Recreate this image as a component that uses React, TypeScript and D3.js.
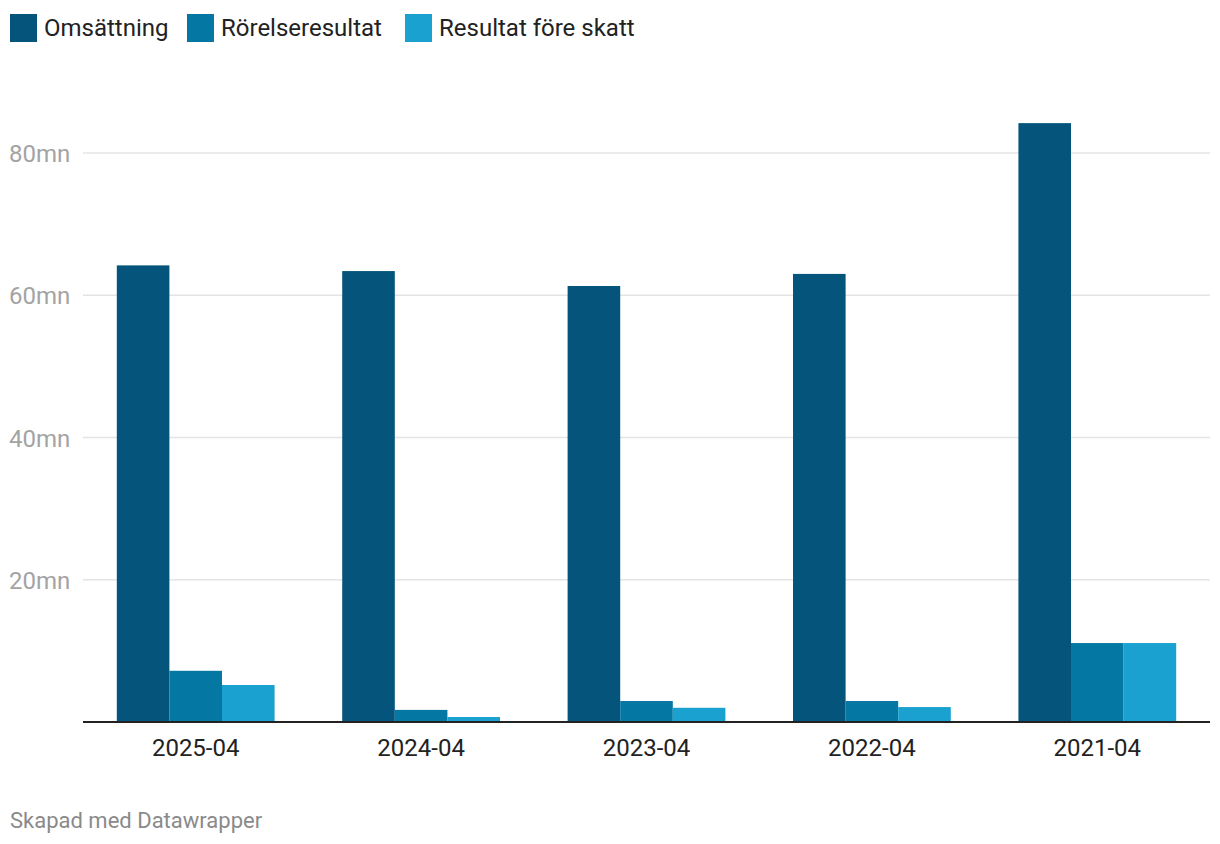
import { useEffect, useRef } from 'react';
import * as d3 from 'd3';

const categories = ['2025-04', '2024-04', '2023-04', '2022-04', '2021-04'];
const seriesNames = ['Omsättning', 'Rörelseresultat', 'Resultat före skatt'];
const omsattning = [64.2, 63.4, 61.3, 63.0, 84.2];
const rorelseresultat = [7.2, 1.7, 2.95, 2.95, 11.1];
const resultatForeSkatt = [5.2, 0.7, 2.0, 2.1, 11.1];
const yTicks = [20, 40, 60, 80];
const colors = ['#04547b', '#0477a3', '#1aa1cf'];

export default function App() {
  const svgRef = useRef<SVGSVGElement>(null);
  const width = 1220;
  const height = 844;

  useEffect(() => {
    document.body.style.margin = '0';
    if (!svgRef.current) return;

    const svg = d3.select(svgRef.current);
    svg.selectAll('*').remove();

    const font = 'Roboto, sans-serif';
    const margin = { top: 100, right: 10, bottom: 122, left: 83 };
    const innerWidth = width - margin.left - margin.right;
    const innerHeight = height - margin.top - margin.bottom;

    const values = [omsattning, rorelseresultat, resultatForeSkatt];
    const data = categories.map((c, i) => ({
      category: c,
      vals: seriesNames.map((s, j) => ({ series: s, value: values[j][i], idx: j })),
    }));

    const x0 = d3.scaleBand()
      .domain(categories)
      .range([0, innerWidth])
      .paddingInner(0.3)
      .paddingOuter(0.15);

    const x1 = d3.scaleBand()
      .domain(seriesNames)
      .range([0, x0.bandwidth()]);

    // 80mn sits at y=153, baseline at 722
    const y = d3.scaleLinear()
      .domain([0, 80])
      .range([innerHeight, 153 - margin.top]);

    const g = svg.append('g')
      .attr('transform', `translate(${margin.left},${margin.top})`);

    // gridlines
    g.selectAll('.grid')
      .data(yTicks)
      .enter().append('line')
      .attr('x1', 0)
      .attr('x2', innerWidth)
      .attr('y1', d => y(d))
      .attr('y2', d => y(d))
      .attr('stroke', '#e4e4e4')
      .attr('stroke-width', 1.5);

    // y labels
    svg.selectAll('.ylab')
      .data(yTicks)
      .enter().append('text')
      .attr('x', 9)
      .attr('y', d => margin.top + y(d) + 9)
      .attr('font-family', font)
      .attr('font-size', 24)
      .attr('fill', '#a3a3a3')
      .text(d => `${d}mn`);

    // bars
    const groups = g.selectAll('.group')
      .data(data)
      .enter().append('g')
      .attr('transform', d => `translate(${x0(d.category)},0)`);

    groups.selectAll('rect')
      .data(d => d.vals)
      .enter().append('rect')
      .attr('x', d => x1(d.series)!)
      .attr('y', d => y(d.value))
      .attr('width', x1.bandwidth())
      .attr('height', d => innerHeight - y(d.value))
      .attr('fill', d => colors[d.idx]);

    // baseline
    g.append('line')
      .attr('x1', 0)
      .attr('x2', innerWidth)
      .attr('y1', innerHeight)
      .attr('y2', innerHeight)
      .attr('stroke', '#222')
      .attr('stroke-width', 2);

    // x labels
    g.selectAll('.xlab')
      .data(categories)
      .enter().append('text')
      .attr('x', d => x0(d)! + x0.bandwidth() / 2)
      .attr('y', innerHeight + 34)
      .attr('text-anchor', 'middle')
      .attr('font-family', font)
      .attr('font-size', 24)
      .attr('fill', '#222')
      .text(d => d);

    // legend
    const legendX = [10, 187, 405];
    const legend = svg.selectAll('.legend')
      .data(seriesNames)
      .enter().append('g')
      .attr('transform', (d, i) => `translate(${legendX[i]},14)`);

    legend.append('rect')
      .attr('width', 27)
      .attr('height', 28)
      .attr('fill', (d, i) => colors[i]);

    legend.append('text')
      .attr('x', 34)
      .attr('y', 22)
      .attr('font-family', font)
      .attr('font-size', 24)
      .attr('fill', '#222')
      .text(d => d);

    // footer
    svg.append('text')
      .attr('x', 10)
      .attr('y', 828)
      .attr('font-family', font)
      .attr('font-size', 22)
      .attr('fill', '#8a8a8a')
      .text('Skapad med Datawrapper');
  }, []);

  return (
    <svg
      ref={svgRef}
      width={width}
      height={height}
      style={{ display: 'block', background: '#fff' }}
    />
  );
}
